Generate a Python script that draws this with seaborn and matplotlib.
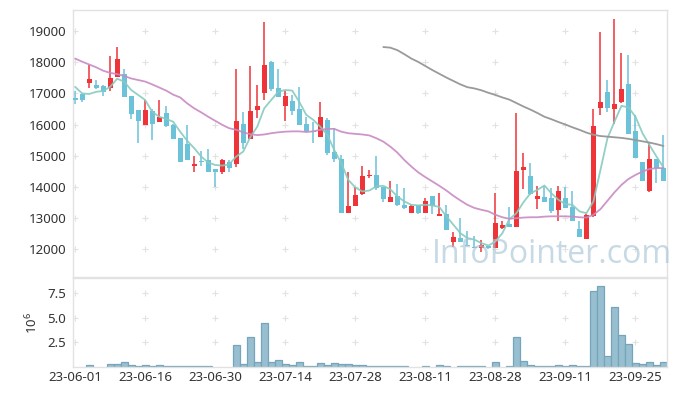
import numpy as np
import pandas as pd
import seaborn as sns
import matplotlib
matplotlib.use("Agg")
import matplotlib.pyplot as plt

# daily candles, Jun 1 - Oct 5 2023 (trading days only)
opens = [16850, 16980, 17340, 17270, 17240, 17180, 17540, 17620, 16920, 16470,
         16000, 16430, 16090, 16370, 15990, 15570, 15380, 14670, 14830, 14860,
         14570, 14490, 14780, 14740, 16030, 15550, 16470, 17000, 18010, 17170,
         16610, 16760, 16500, 16020, 15790, 15590, 16150, 15120, 14880, 13170,
         13370, 13770, 14330, 14380, 13980, 13500, 13710, 13420, 13170, 13400,
         13170, 13710, 13050, 13130, 12240, 12350, 12140, 12080, 12020, 12100,
         12020, 12690, 12810, 12720, 14530, 14350, 13620, 13670, 13640, 13260,
         13640, 13350, 12650, 12320, 13070, 16540, 17050, 16510, 16730, 17290,
         15790, 14790, 13850, 14880, 14600]
highs = [17090, 16990, 17910, 17430, 17270, 18200, 18500, 17770, 16920, 16470,
         16790, 16490, 16790, 16600, 16010, 15570, 15980, 14990, 15140, 15210,
         14570, 14900, 14860, 17800, 16390, 17870, 17260, 19280, 18030, 17770,
         17090, 16950, 17190, 16250, 16080, 16720, 16200, 15880, 15030, 14490,
         13990, 14670, 14540, 14990, 13990, 14170, 14080, 13950, 13420, 13420,
         13630, 13710, 13790, 13400, 12550, 12990, 12570, 12410, 12300, 12100,
         13790, 12900, 13350, 16360, 15100, 14760, 14010, 14010, 13950, 14040,
         13980, 13850, 12890, 13110, 16490, 18970, 17430, 19380, 18310, 18250,
         16310, 14790, 15400, 14880, 15670]
lows = [16660, 16730, 17160, 17130, 16930, 17090, 17540, 16870, 16190, 15400,
        16000, 15500, 16090, 15930, 15520, 14810, 14850, 14460, 14670, 14490,
        13990, 14400, 14480, 14650, 15210, 15540, 16200, 16790, 17080, 16870,
        16110, 16290, 15980, 15750, 15400, 15590, 15010, 14780, 13170, 13170,
        13370, 13740, 14280, 13900, 13500, 13500, 13370, 13280, 13150, 13120,
        13170, 13130, 13050, 12600, 12080, 12210, 12100, 12020, 11900, 12000,
        12020, 12640, 12720, 12700, 13930, 13740, 13300, 13500, 13150, 12890,
        13330, 12890, 12370, 12310, 13020, 16290, 16410, 16010, 16700, 15690,
        14940, 14200, 13820, 14120, 14200]
closes = [16800, 16790, 17460, 17170, 17030, 17490, 18100, 16890, 16340, 16120,
          16470, 16020, 16240, 15960, 15550, 14810, 14860, 14740, 14800, 14490,
          14490, 14860, 14600, 16110, 15420, 16450, 16600, 17910, 17140, 16890,
          16920, 16450, 16000, 15790, 15750, 16240, 15080, 14880, 13170, 13390,
          13740, 14350, 14390, 13950, 13610, 13670, 13400, 13330, 13390, 13170,
          13530, 13390, 13130, 12600, 12380, 12210, 12100, 12020, 12130, 12020,
          12850, 12760, 12720, 14510, 14620, 13760, 13690, 13520, 13210, 13860,
          13330, 12890, 12370, 13100, 15950, 16720, 16540, 16650, 17140, 15690,
          14940, 14200, 14880, 14600, 14200]

ma5 = [17210, 17000, 16980, 17050, 17080, 17210, 17470, 17380, 17110, 16950,
       16790, 16410, 16250, 16180, 16090, 15770, 15480, 15240, 14970, 14780,
       14700, 14680, 14720, 14970, 15130, 15590, 15930, 16520, 16790, 17050,
       17110, 17090, 16730, 16310, 16150, 15930, 15670, 15180, 14760, 14220,
       13980, 13850, 13880, 14010, 14030, 13920, 13690, 13530, 13420, 13400,
       13420, 13400, 13350, 13050, 12780, 12510, 12350, 12300, 12190, 12110,
       12240, 12510, 12960, 13150, 13500, 13790, 13900, 14040, 13790, 13580,
       13440, 13420, 13210, 13150, 13530, 14540, 15560, 16090, 16600, 16550,
       16250, 15720, 15340, 14970, 14620]
ma20 = [18120, 18020, 17930, 17840, 17730, 17660, 17620, 17560, 17480, 17430,
        17380, 17290, 17190, 17090, 16960, 16870, 16680, 16520, 16390, 16250,
        16120, 15990, 15880, 15830, 15750, 15690, 15660, 15680, 15720, 15750,
        15770, 15780, 15780, 15760, 15780, 15830, 15860, 15860, 15770, 15720,
        15700, 15680, 15650, 15560, 15450, 15290, 15100, 14860, 14650, 14460,
        14310, 14170, 14030, 13880, 13710, 13560, 13420, 13320, 13260, 13210,
        13100, 13020, 12970, 12990, 13010, 13020, 13020, 13040, 13050, 13050,
        13050, 13040, 13020, 13010, 13100, 13280, 13550, 13820, 14060, 14250,
        14380, 14490, 14570, 14600, 14600]
# long average only shown from day 44 on
ma_long_start = 44
ma_long = [18490, 18470, 18390, 18260, 18120, 18010,
           17880, 17750, 17630, 17510, 17400, 17290, 17200, 17160, 17100, 17020,
           16950, 16870, 16800, 16690, 16580, 16480, 16370, 16250, 16170, 16080,
           16000, 15910, 15830, 15740, 15670, 15630, 15610, 15590, 15570, 15540,
           15500, 15460, 15420, 15370, 15310]

# volume in millions of shares
volume = [0, 0, 0.2, 0, 0, 0.3, 0.3, 0.5, 0.2, 0.1,
          0.2, 0.1, 0.2, 0.1, 0.1, 0.1, 0.1, 0.1, 0.1, 0.1,
          0, 0, 0, 2.23, 0.3, 3.04, 0.5, 4.46, 0.5, 0.7,
          0.3, 0.2, 0.5, 0.1, 0.1, 0.4, 0.2, 0.4, 0.3, 0.3,
          0.2, 0.2, 0.1, 0.1, 0.1, 0.1, 0.1, 0.1, 0, 0,
          0.1, 0, 0.2, 0.1, 0, 0.1, 0.1, 0.1, 0.1, 0,
          0.5, 0, 0.1, 3.04, 0.6, 0.2, 0.1, 0.1, 0.1, 0.2,
          0.1, 0.2, 0.1, 0.1, 7.70, 8.21, 1.11, 6.08, 3.24, 2.33,
          0.4, 0.3, 0.5, 0.2, 0.5]

tick_labels = ["23-06-01", "23-06-16", "23-06-30", "23-07-14", "23-07-28",
               "23-08-11", "23-08-28", "23-09-11", "23-09-25"]

RED = "#ef3439"
BLUE = "#6cc2d8"
TEAL = "#86cbc0"
PURPLE = "#c98ac3"
GRAY = "#9a9a9a"
VOLC = "#98bfd0"
VOLE = "#74a5ba"
SPINE = "#e2e2e2"
TXT = "#333333"

sns.set_style("white")
plt.rcParams['font.family'] = ['Noto Sans', 'DejaVu Sans']
plt.rcParams['mathtext.fontset'] = 'custom'
plt.rcParams['mathtext.rm'] = 'Noto Sans'
plt.rcParams['mathtext.it'] = 'Noto Sans'

df = pd.DataFrame({"x": np.arange(len(opens)), "open": opens, "high": highs,
                   "low": lows, "close": closes, "ma5": ma5, "ma20": ma20,
                   "vol": volume})
df["up"] = df["close"] >= df["open"]
cols = np.where(df["up"], RED, BLUE)

fig = plt.figure(figsize=(6.77, 3.96), dpi=100)
ax = fig.add_axes([73 / 677, 1 - 277 / 396, 594 / 677, 267 / 396])
axv = fig.add_axes([73 / 677, 1 - 367.3 / 396, 594 / 677, 89.3 / 396])

xlim = (-0.3, 84.5)
xt = list(range(0, 81, 10))
yt = list(range(12000, 19001, 1000))
vt = [2.5, 5.0, 7.5]

# grid drawn as little crosses
gx, gy = np.meshgrid(xt, yt)
ax.scatter(gx.ravel(), gy.ravel(), marker="+", s=14, color="#e2e2e2", lw=0.8, zorder=0)
gx, gy = np.meshgrid(xt, vt)
axv.scatter(gx.ravel(), gy.ravel(), marker="+", s=14, color="#e2e2e2", lw=0.8, zorder=0)

# candles
ax.vlines(df["x"], df["low"], df["high"], colors=cols, lw=1.1, zorder=2)
body = (df["close"] - df["open"]).abs().clip(lower=25)
ax.bar(df["x"], body, bottom=np.minimum(df["open"], df["close"]), width=0.72,
       color=cols, lw=0, zorder=3)

# moving averages
sns.lineplot(data=df, x="x", y="ma5", ax=ax, color=TEAL, lw=1.3, alpha=0.9, zorder=4)
sns.lineplot(data=df, x="x", y="ma20", ax=ax, color=PURPLE, lw=1.3, alpha=0.9, zorder=4)
sns.lineplot(x=np.arange(ma_long_start, ma_long_start + len(ma_long)), y=ma_long,
             ax=ax, color=GRAY, lw=1.3, zorder=4)

ax.text(0.806, 0.085, "InfoPointer.com", transform=ax.transAxes, ha="center",
        va="center", fontsize=23, color="#a9c6d6", alpha=0.65, zorder=5,
        family=["Open Sans", "DejaVu Sans"])

# volume
vdf = df[df["vol"] > 0]
sns.barplot(data=vdf, x="x", y="vol", native_scale=True, ax=axv, color=VOLC,
            saturation=1, errorbar=None, width=1.0, edgecolor=VOLE, linewidth=0.9,
            zorder=2)

for a in (ax, axv):
    a.set_xlim(*xlim)
    a.set_xticks(xt)
    a.tick_params(length=0, labelsize=9.5, colors=TXT)
    for s in a.spines.values():
        s.set_color(SPINE)
        s.set_linewidth(1)
    a.set_xlabel("")
    a.set_ylabel("")

ax.set_ylim(11100, 19680)
ax.set_yticks(yt)
ax.set_yticklabels([str(v) for v in yt])
ax.set_xticklabels([])
ax.tick_params(axis="y", pad=5)

axv.set_ylim(0, 9.0)
axv.set_yticks(vt)
axv.set_yticklabels(["2.5", "5.0", "7.5"])
axv.set_xticklabels(tick_labels)
axv.tick_params(axis="x", pad=3)
axv.tick_params(axis="y", pad=5)
axv.set_ylabel(r"$10^6$", fontsize=9.5, color=TXT, labelpad=5)

fig.savefig("out.png", dpi=100)
